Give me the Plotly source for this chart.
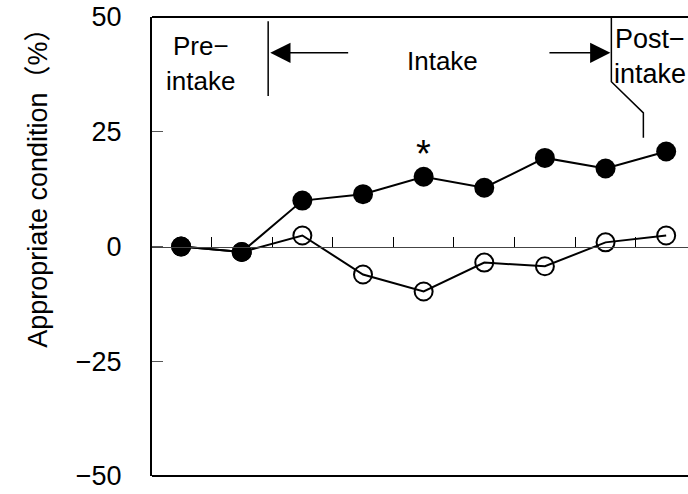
import plotly.graph_objects as go

# Measurement occasions (1 = pre-intake, 2-8 = intake period, 9 = post-intake)
occasions = [1, 2, 3, 4, 5, 6, 7, 8, 9]
# Change in appropriate condition (%) for each group
active_group = [0.0, -1.2, 10.0, 11.4, 15.2, 12.8, 19.3, 17.0, 20.7]
control_group = [0.0, -1.2, 2.4, -6.1, -9.8, -3.5, -4.3, 0.9, 2.4]
# Boundaries between occasions marked on the zero line
boundary_ticks = [1.5, 2.5, 3.5, 4.5, 5.5, 6.5, 7.5, 8.5]
y_ticks = [-50, -25, 0, 25, 50]
y_tick_text = ["\u221250", "\u221225", "0", "25", "50"]

FONT = "Liberation Sans, Arial, Noto Sans CJK JP, sans-serif"
X_RANGE = [0.52, 9.36]

fig = go.Figure()

fig.add_trace(go.Scatter(
    x=occasions, y=control_group, mode="lines+markers",
    line=dict(color="black", width=2),
    marker=dict(symbol="circle-open", size=18, color="black",
                line=dict(width=2, color="black")),
    showlegend=False,
))
fig.add_trace(go.Scatter(
    x=occasions, y=active_group, mode="lines+markers",
    line=dict(color="black", width=2),
    marker=dict(symbol="circle", size=20, color="black"),
    showlegend=False,
))


def label(x, y, text, anchor="center", size=26):
    return dict(x=x, y=y, xref="x", yref="y", text=text, showarrow=False,
                xanchor=anchor, font=dict(size=size, family=FONT))


annotations = [
    # period labels
    label(1.32, 43.6, "Pre\u2212"),
    label(1.32, 36.0, "intake"),
    label(5.31, 40.4, "Intake"),
    label(8.13, 45.2, "Post\u2212", anchor="left", size=27),
    label(8.10, 37.6, "intake", anchor="left", size=27),
    # significance mark
    label(5, 20.2, "*", size=38),
    # arrows spanning the intake period
    dict(x=2.47, y=42.2, ax=3.78, ay=42.2, xref="x", yref="y",
         axref="x", ayref="y", text="", showarrow=True, arrowhead=2,
         arrowsize=2.7, arrowwidth=1.5, arrowcolor="black"),
    dict(x=8.08, y=42.2, ax=7.05, ay=42.2, xref="x", yref="y",
         axref="x", ayref="y", text="", showarrow=True, arrowhead=2,
         arrowsize=2.7, arrowwidth=1.5, arrowcolor="black"),
    # y axis title
    dict(x=-0.213, y=0.643, xref="paper", yref="paper",
         xanchor="center", yanchor="middle",
         text="Appropriate condition\uff08%\uff09", textangle=-90,
         showarrow=False, font=dict(size=27, family=FONT)),
]

frame = dict(color="black", width=2)
shapes = [
    # top and bottom edges of the frame
    dict(type="line", xref="paper", yref="paper", x0=0, x1=1, y0=1, y1=1,
         line=frame),
    dict(type="line", xref="paper", yref="paper", x0=0, x1=1, y0=0, y1=0,
         line=frame),
    # period dividers
    dict(type="line", xref="x", yref="y", x0=2.436, x1=2.436, y0=49.1, y1=32.8,
         line=dict(color="black", width=1.5)),
    dict(type="path", xref="x", yref="y",
         path="M 8.096,50 L 8.096,35.9 L 8.624,29.1 L 8.624,23.7",
         line=dict(color="black", width=1.5)),
]

fig.update_layout(
    width=688, height=494,
    margin=dict(l=152, r=0, t=17, b=18),
    paper_bgcolor="white", plot_bgcolor="white",
    template="none",
    font=dict(family=FONT, color="black"),
    # the x axis runs along y = 0 with marks between occasions
    xaxis=dict(range=X_RANGE, anchor="free", position=0.5,
               showgrid=False, zeroline=False, showline=True,
               linecolor="#444", linewidth=1,
               tickmode="array", tickvals=boundary_ticks, ticks="inside",
               ticklen=10, tickwidth=1, tickcolor="black",
               showticklabels=False, automargin=False),
    yaxis=dict(range=[-50, 50], showgrid=False, zeroline=False,
               showline=True, linecolor="black", linewidth=2,
               tickmode="array", tickvals=y_ticks, ticktext=y_tick_text,
               ticks="inside", ticklen=11, tickwidth=1, tickcolor="#555",
               tickfont=dict(size=27, family=FONT), ticklabelstandoff=23,
               automargin=False),
    annotations=annotations,
    shapes=shapes,
)

fig.write_html("out.html")
